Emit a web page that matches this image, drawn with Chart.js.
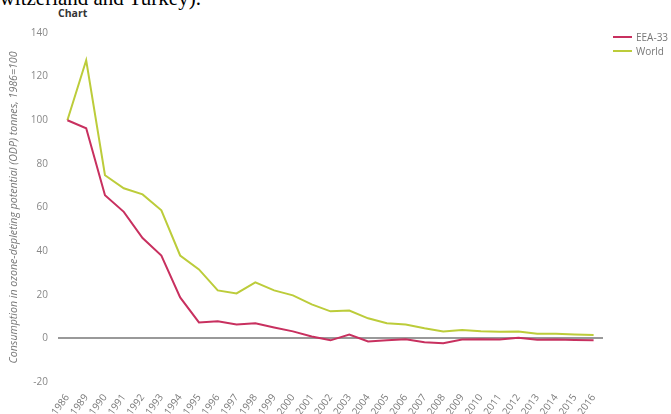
<!DOCTYPE html>
<html>
<head>
<meta charset="utf-8">
<script src="https://cdn.jsdelivr.net/npm/chart.js@4"></script>
<style>
  html, body { margin:0; padding:0; width:671px; height:414px; overflow:hidden; background:#fff; }
  #head { position:absolute; left:-12px; top:-11.6px; font-family:"Liberation Serif", serif; font-size:21px; line-height:21px; color:#000; white-space:nowrap; }
  #title { position:absolute; left:58px; top:6px; font-family:"Open Sans", sans-serif; font-weight:bold; font-size:10.5px; line-height:14px; color:#333; }
  #wrap { position:absolute; left:0; top:0; width:671px; height:414px; }
  #legend { position:absolute; left:613px; top:30px; font-family:"Open Sans", sans-serif; font-size:10px; color:#777; white-space:nowrap; }
  .li { height:14px; display:flex; align-items:center; }
  .sw { width:19px; height:2px; margin-right:4px; flex:none; }
</style>
</head>
<body>
<div id="head">Switzerland and Turkey).</div>
<div id="title">Chart</div>
<div id="wrap"><canvas id="c"></canvas></div>
<div id="legend"></div>
<script>
const years = ['1986','1989','1990','1991','1992','1993','1994','1995','1996','1997','1998','1999','2000','2001','2002','2003','2004','2005','2006','2007','2008','2009','2010','2011','2012','2013','2014','2015','2016'];
const eea33 = [100,96.3,65.6,58,46,38,18.8,7.3,7.8,6.4,6.9,5,3.2,0.9,-0.9,1.8,-1.4,-0.9,-0.4,-1.8,-2.2,-0.5,-0.4,-0.5,0.3,-0.6,-0.5,-0.7,-0.9];
const world = [100,127.5,74.8,68.8,66,58.7,38,31.6,22,20.6,25.7,22,19.7,15.6,12.4,12.8,9.2,6.9,6.4,4.6,3.2,3.8,3.3,3,3.2,2.1,2.1,1.8,1.6];
const seriesNames = ['EEA-33','World'];
const seriesColors = ['#c8305f','#bccc3a'];
const yTicks = {min:-20, max:140, step:20};
const yTitle = 'Consumption in ozone-depleting potential (ODP) tonnes, 1986=100';

const font = "'Open Sans', sans-serif";
const chart = new Chart(document.getElementById('c'), {
  type: 'line',
  data: {
    labels: years,
    datasets: [
      {label: seriesNames[0], data: eea33, borderColor: seriesColors[0], backgroundColor: seriesColors[0], borderWidth: 2, pointRadius: 0, tension: 0},
      {label: seriesNames[1], data: world, borderColor: seriesColors[1], backgroundColor: seriesColors[1], borderWidth: 2, pointRadius: 0, tension: 0}
    ]
  },
  options: {
    responsive: true,
    maintainAspectRatio: false,
    animation: false,
    layout: { padding: { top: 33, right: 68, left: 0, bottom: 0 } },
    plugins: { legend: { display: false }, title: { display: false }, tooltip: { enabled: false } },
    scales: {
      x: {
        offset: true,
        grid: { display: false },
        border: { display: false },
        ticks: { color: '#777', font: { family: font, size: 10 }, minRotation: 54, maxRotation: 54, autoSkip: false, padding: 2 },
        afterFit: s => { s.height = 32; }
      },
      y: {
        min: yTicks.min, max: yTicks.max,
        border: { display: false },
        grid: {
          drawTicks: false,
          color: c => c.tick && c.tick.value === 0 ? '#999' : 'rgba(0,0,0,0)',
          lineWidth: c => c.tick && c.tick.value === 0 ? 2 : 0
        },
        ticks: { stepSize: yTicks.step, color: '#888', font: { family: font, size: 10 }, padding: 10 },
        title: { display: true, text: yTitle, color: '#777', font: { family: font, size: 10.6, style: 'italic' }, padding: { top: 7.5, bottom: 0 } },
        afterFit: s => { s.width = 58; }
      }
    }
  }
});

const lg = document.getElementById('legend');
chart.data.datasets.forEach(ds => {
  const row = document.createElement('div'); row.className = 'li';
  const sw = document.createElement('span'); sw.className = 'sw'; sw.style.background = ds.borderColor;
  const tx = document.createElement('span'); tx.textContent = ds.label;
  row.appendChild(sw); row.appendChild(tx); lg.appendChild(row);
});
</script>
</body>
</html>
